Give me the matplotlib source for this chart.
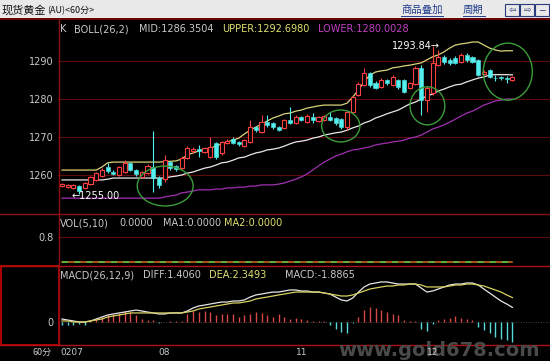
import numpy as np
import matplotlib
matplotlib.use("Agg")
from matplotlib import pyplot as plt
from matplotlib.patches import Rectangle, Ellipse
from matplotlib.lines import Line2D
from matplotlib.transforms import blended_transform_factory

plt.rcParams["font.family"] = ["DejaVu Sans", "Noto Sans CJK SC"]

# 60 minute gold candles
opens = [1257.1, 1256.8, 1256.6, 1257.1, 1256.6, 1257.6, 1258.7, 1259.7, 1262.1, 1260.8,
         1260.0, 1260.8, 1263.2, 1261.3, 1259.5, 1260.5, 1262.1, 1259.2, 1258.9, 1263.4,
         1262.4, 1261.8, 1264.5, 1266.3, 1266.8, 1266.1, 1264.7, 1268.4, 1265.8, 1268.4,
         1269.5, 1268.7, 1267.6, 1268.7, 1272.6, 1271.3, 1273.9, 1273.7, 1272.6, 1272.4,
         1274.5, 1273.7, 1275.3, 1273.9, 1275.3, 1274.2, 1274.5, 1275.3, 1275.0, 1274.7,
         1272.6, 1276.6, 1281.1, 1283.7, 1286.8, 1284.2, 1283.2, 1285.0, 1283.7, 1285.0,
         1285.0, 1282.9, 1283.9, 1288.2, 1279.7, 1281.6, 1288.9, 1291.1, 1290.3, 1290.8,
         1289.7, 1291.6, 1291.1, 1290.3, 1286.6, 1287.6, 1285.5, 1285.7, 1285.4, 1285.0]
closes = [1257.6, 1257.4, 1257.4, 1255.8, 1257.9, 1259.5, 1260.5, 1261.3, 1261.1, 1260.3,
          1262.1, 1263.2, 1261.3, 1260.3, 1260.8, 1262.4, 1259.2, 1257.4, 1263.9, 1261.8,
          1261.6, 1264.5, 1267.1, 1266.8, 1266.3, 1267.1, 1267.4, 1264.7, 1268.7, 1268.9,
          1268.4, 1268.2, 1269.2, 1272.6, 1271.8, 1273.9, 1273.2, 1272.6, 1271.8, 1274.5,
          1273.7, 1275.3, 1274.5, 1275.5, 1274.5, 1275.3, 1275.5, 1274.5, 1273.7, 1272.6,
          1276.6, 1280.5, 1283.9, 1286.8, 1283.7, 1282.9, 1285.0, 1284.2, 1285.8, 1283.2,
          1281.8, 1284.2, 1288.2, 1279.7, 1282.9, 1289.5, 1291.1, 1289.7, 1289.5, 1289.5,
          1291.6, 1290.3, 1289.7, 1286.3, 1287.1, 1285.8, 1285.4, 1285.5, 1285.3, 1285.8]
highs = [1257.9, 1257.6, 1257.6, 1257.4, 1258.2, 1259.7, 1260.8, 1261.8, 1263.2, 1261.3,
         1262.4, 1263.9, 1263.4, 1261.6, 1261.1, 1262.9, 1271.6, 1259.7, 1265.3, 1263.7,
         1262.6, 1265.0, 1267.6, 1267.4, 1267.9, 1267.4, 1270.0, 1268.7, 1268.9, 1269.5,
         1270.0, 1268.9, 1269.5, 1274.5, 1272.9, 1275.8, 1275.8, 1273.9, 1272.9, 1274.7,
         1277.9, 1275.8, 1275.5, 1276.1, 1276.3, 1275.5, 1275.8, 1276.6, 1275.3, 1275.0,
         1276.8, 1280.8, 1284.5, 1288.2, 1287.1, 1284.7, 1285.5, 1285.3, 1286.3, 1285.3,
         1285.3, 1284.5, 1288.7, 1288.9, 1283.4, 1293.84, 1292.9, 1291.6, 1290.8, 1291.3,
         1292.1, 1292.1, 1291.3, 1290.5, 1287.6, 1287.9, 1286.3, 1286.1, 1286.1, 1286.1]
lows = [1256.8, 1256.6, 1256.3, 1255.0, 1256.3, 1257.4, 1258.4, 1259.5, 1260.5, 1260.0,
        1259.7, 1260.5, 1261.1, 1259.7, 1259.2, 1260.3, 1255.5, 1256.6, 1258.2, 1261.3,
        1261.1, 1261.6, 1264.2, 1265.8, 1264.7, 1265.8, 1264.5, 1264.2, 1265.3, 1268.2,
        1268.2, 1267.6, 1267.4, 1268.4, 1271.3, 1271.1, 1272.6, 1272.1, 1271.6, 1272.1,
        1273.4, 1273.4, 1274.2, 1273.7, 1273.7, 1273.9, 1274.2, 1274.2, 1273.2, 1272.1,
        1271.8, 1276.3, 1280.8, 1283.4, 1283.2, 1282.6, 1282.9, 1283.7, 1283.4, 1282.6,
        1281.6, 1282.6, 1283.7, 1275.8, 1276.6, 1281.1, 1288.7, 1289.2, 1288.9, 1289.2,
        1289.5, 1289.7, 1289.5, 1286.1, 1286.3, 1285.5, 1284.7, 1285.0, 1284.2, 1284.7]

# BOLL(26,2)
boll_upper = [1261.3, 1261.3, 1261.3, 1261.3, 1261.3, 1261.3, 1261.3, 1262.1, 1263.2, 1263.4,
              1263.4, 1263.4, 1263.4, 1263.4, 1263.4, 1263.4, 1263.4, 1263.4, 1263.5, 1263.6,
              1263.7, 1264.2, 1265.3, 1265.8, 1266.3, 1266.8, 1267.1, 1267.6, 1268.2, 1268.7,
              1269.2, 1269.7, 1270.8, 1271.8, 1272.6, 1273.4, 1274.2, 1275.0, 1275.5, 1276.1,
              1276.3, 1276.8, 1277.1, 1277.6, 1277.9, 1278.2, 1278.4, 1278.4, 1278.4, 1278.4,
              1278.9, 1280.5, 1282.4, 1284.5, 1286.3, 1287.1, 1287.4, 1287.6, 1288.2, 1288.4,
              1288.7, 1288.9, 1289.2, 1289.5, 1290.3, 1291.1, 1291.6, 1292.4, 1293.4, 1294.2,
              1294.5, 1294.7, 1295.0, 1295.0, 1294.2, 1293.4, 1292.9, 1292.6, 1292.7, 1292.7]
boll_mid = [1258.7, 1258.7, 1258.7, 1258.7, 1258.7, 1258.7, 1258.7, 1258.7, 1258.9, 1259.2,
            1259.2, 1259.2, 1259.2, 1259.2, 1259.2, 1259.2, 1259.2, 1259.2, 1259.2, 1259.5,
            1259.7, 1260.0, 1260.5, 1260.8, 1261.3, 1261.8, 1262.1, 1262.6, 1263.2, 1263.4,
            1263.9, 1264.5, 1264.7, 1265.3, 1265.8, 1266.1, 1266.6, 1266.8, 1267.1, 1267.6,
            1268.2, 1268.7, 1268.9, 1269.2, 1269.7, 1270.0, 1270.5, 1270.8, 1271.1, 1271.3,
            1271.8, 1272.4, 1272.9, 1273.7, 1274.2, 1275.0, 1275.5, 1276.1, 1276.6, 1277.1,
            1277.9, 1278.7, 1279.2, 1280.0, 1280.8, 1281.3, 1282.1, 1282.6, 1283.2, 1283.7,
            1283.9, 1284.5, 1285.0, 1285.5, 1285.8, 1286.3, 1286.4, 1286.4, 1286.4, 1286.35]
boll_lower = [1253.9, 1253.9, 1253.9, 1253.9, 1253.9, 1253.9, 1253.9, 1253.9, 1253.9, 1253.9,
              1253.9, 1253.9, 1253.9, 1253.9, 1253.9, 1253.9, 1253.9, 1253.9, 1254.2, 1254.5,
              1254.7, 1255.3, 1255.5, 1255.8, 1256.1, 1256.1, 1256.1, 1256.3, 1256.3, 1256.6,
              1256.6, 1256.8, 1256.8, 1257.1, 1257.1, 1257.4, 1257.4, 1257.4, 1257.6, 1257.9,
              1258.4, 1258.9, 1259.5, 1260.3, 1261.3, 1262.4, 1263.4, 1264.2, 1265.0, 1265.5,
              1266.1, 1266.6, 1266.8, 1267.1, 1267.4, 1267.9, 1268.2, 1268.4, 1268.7, 1268.9,
              1269.2, 1269.7, 1270.0, 1270.5, 1271.3, 1272.1, 1272.6, 1273.2, 1273.9, 1274.7,
              1275.5, 1276.3, 1276.8, 1277.6, 1278.4, 1278.9, 1279.5, 1279.7, 1280.0, 1280.0]

# VOL(5,10): no volume for spot gold, both averages sit at zero
vol_ma1 = [0.0] * 80
vol_ma2 = [0.0] * 80

# MACD(26,12,9)
macd_diff = [0.29, 0.19, 0.10, 0.00, 0.00, 0.10, 0.29, 0.48, 0.67, 0.77,
             0.87, 0.96, 1.06, 1.15, 1.06, 0.96, 0.87, 0.77, 0.77, 0.87,
             0.87, 0.87, 1.06, 1.35, 1.54, 1.63, 1.73, 1.83, 1.92, 1.92,
             2.02, 2.02, 2.12, 2.40, 2.60, 2.69, 2.79, 2.88, 2.88, 2.98,
             3.08, 3.08, 2.98, 2.98, 2.88, 2.88, 2.79, 2.69, 2.40, 2.12,
             2.02, 2.31, 2.88, 3.37, 3.65, 3.75, 3.85, 3.85, 3.75, 3.65,
             3.65, 3.65, 3.65, 3.27, 2.88, 2.98, 3.17, 3.37, 3.56, 3.65,
             3.65, 3.75, 3.75, 3.56, 3.17, 2.79, 2.40, 2.02, 1.73, 1.406]
macd_dea = [0.10, 0.10, 0.00, 0.00, 0.00, 0.10, 0.19, 0.29, 0.48, 0.58,
            0.67, 0.77, 0.87, 0.87, 0.87, 0.87, 0.87, 0.87, 0.87, 0.87,
            0.87, 0.87, 0.96, 1.06, 1.25, 1.35, 1.44, 1.54, 1.63, 1.73,
            1.83, 1.83, 1.92, 2.02, 2.21, 2.31, 2.40, 2.50, 2.60, 2.69,
            2.79, 2.88, 2.88, 2.88, 2.88, 2.88, 2.79, 2.69, 2.60, 2.50,
            2.50, 2.60, 2.79, 2.98, 3.17, 3.27, 3.37, 3.46, 3.46, 3.56,
            3.56, 3.65, 3.65, 3.56, 3.37, 3.37, 3.37, 3.37, 3.46, 3.56,
            3.56, 3.65, 3.65, 3.56, 3.46, 3.27, 3.08, 2.88, 2.60, 2.349]
macd_hist = [-0.3, -0.25, -0.3, -0.2, -0.25, 0.15, 0.3, 0.5, 0.65, 0.8,
             0.9, 1.1, 1.0, 0.65, 0.3, 0.2, 0.15, -0.1, 0.0, 0.05,
             0.05, 0.1, 0.8, 1.1, 1.0, 1.1, 1.0, 0.65, 0.8, 0.75,
             0.8, 0.5, 0.65, 0.8, 1.0, 0.9, 0.65, 0.5, 0.8, 0.5,
             0.3, 0.4, 0.25, 0.15, 0.1, 0.05, 0.05, -0.3, -0.65, -1.0,
             -1.05, -0.05, 0.5, 1.2, 1.4, 1.3, 1.2, 1.0, 0.8, 0.65,
             0.15, 0.05, 0.1, -0.65, -0.85, -0.2, 0.15, 0.3, 0.4, 0.55,
             0.4, 0.3, 0.15, -0.5, -0.8, -1.1, -1.4, -1.6, -1.75, -1.8865]

price_ticks = [1260, 1270, 1280, 1290]
date_pos = [0, 18, 42, 65]
date_labels = ["0207", "08", "11", "12"]

# hand drawn green circles: (bar index, price, width in bars, height in price)
circles = [(18.1, 1257.1, 9.8, 10.5), (48.9, 1272.9, 6.7, 8.4),
           (64.1, 1278.2, 6.1, 10.0), (78.2, 1287.2, 8.6, 15.0)]

RED = "#ff4040"
CYAN = "#54f0f0"
GRID = "#5e0b0b"
SEP = "#8c1010"
LABEL = "#c8c8c8"

W, H = 550, 361
X_LO, X_HI = -0.70, 85.6


def fx(x):
    return x / W


def fy(y):
    return 1 - y / H


fig = plt.figure(figsize=(W / 100, H / 100), dpi=100, facecolor="black")


def add_panel(y0, y1):
    ax = fig.add_axes([fx(58), fy(y1), (W - 58) / W, (y1 - y0) / H])
    ax.set_facecolor("black")
    for s in ax.spines.values():
        s.set_visible(False)
    ax.set_xlim(X_LO, X_HI)
    ax.set_xticks([])
    ax.tick_params(axis="y", length=0, pad=3.4, labelsize=7, labelcolor=LABEL)
    return ax


def ftext(x, y, s, **kw):
    kw.setdefault("va", "center")
    kw.setdefault("fontsize", 7)
    kw.setdefault("color", LABEL)
    fig.text(fx(x), fy(y), s, **kw)


def fline(xs, ys, color=SEP, lw=1.0):
    fig.add_artist(Line2D([fx(v) for v in xs], [fy(v) for v in ys],
                          transform=fig.transFigure, color=color, lw=lw))


idx = np.arange(len(opens))
o = np.array(opens)
c = np.array(closes)
h = np.array(highs)
l = np.array(lows)

# ---- price panel
ax = add_panel(19, 213)
ax.set_ylim(1250.0, 1301.05)
ax.set_yticks(price_ticks)
ax.set_yticklabels([str(t) for t in price_ticks])
for t in price_ticks:
    ax.axhline(t, color=GRID, lw=0.8, zorder=0)

ax.plot(idx, boll_upper, color="#d8d47a", lw=0.9, zorder=2)
ax.plot(idx, boll_mid, color="#e8e8e8", lw=0.9, zorder=2)
ax.plot(idx, boll_lower, color="#a030b0", lw=0.9, zorder=2)

up = c >= o
body_lo = np.minimum(o, c)
body_hi = np.maximum(o, c)
body_h = np.maximum(body_hi - body_lo, 0.25)
cols = np.where(up, RED, CYAN)
ax.vlines(idx, l, body_lo, colors=cols, lw=0.8, zorder=3)
ax.vlines(idx, body_hi, h, colors=cols, lw=0.8, zorder=3)
ax.bar(idx[up], body_h[up], bottom=body_lo[up], width=0.72,
       facecolor="black", edgecolor=RED, lw=0.8, zorder=4)
ax.bar(idx[~up], body_h[~up], bottom=body_lo[~up], width=0.72,
       facecolor=CYAN, edgecolor=CYAN, lw=0.4, zorder=4)

for cx, cy, cw, ch in circles:
    ax.add_patch(Ellipse((cx, cy), cw, ch, fill=False, edgecolor="#3c9c3c", lw=1.0, zorder=5))

hi_i = int(np.argmax(h))
ax.text(hi_i + 1.3, h[hi_i], f"{h[hi_i]:.2f}\u2192", ha="right", va="center",
        color="white", fontsize=7, zorder=6)
lo_i = int(np.argmin(l))
ax.text(lo_i - 1.25, l[lo_i] - 0.45, f"\u2190{l[lo_i]:.2f}", ha="left", va="center",
        color="white", fontsize=7, zorder=6)

# ---- volume panel
axv = add_panel(213, 265)
axv.set_ylim(-0.096, 1.568)
axv.set_yticks([0.8])
axv.set_yticklabels(["0.8"])
axv.axhline(0.8, color=GRID, lw=0.8, zorder=0)
axv.plot(idx, vol_ma1, color="#d86a20", lw=1.1)
axv.plot(idx, vol_ma2, color="#50c840", lw=1.1, dashes=(4, 4))

# ---- MACD panel
axm = add_panel(266, 344)
axm.set_ylim(-2.115, 5.385)
axm.set_yticks([0])
axm.set_yticklabels(["0"])
axm.axhline(0, color="#555555", lw=0.6, ls=(0, (1, 2)), zorder=0)
hist = np.array(macd_hist)
axm.vlines(idx, 0, hist, colors=np.where(hist > 0, "#d84848", "#5ad8d8"), lw=1.0)
axm.plot(idx, macd_diff, color="#e6e6e6", lw=0.9)
axm.plot(idx, macd_dea, color="#d8d060", lw=0.9)

# ---- frame lines
fig.add_artist(Rectangle((0, fy(18)), 1, 18 / H, transform=fig.transFigure,
                         facecolor="#e9e9e9", edgecolor="none"))
fline([0, W], [18.5, 18.5], color="#6a0000", lw=1.4)
fline([58.5, 58.5], [19, 344], color=SEP)
fline([0, W], [213.5, 213.5])
fline([0, W], [265.5, 265.5], color="#b01010")
fline([0, W], [344.5, 344.5], color="#b01010")
fig.add_artist(Rectangle((fx(0.8), fy(344.5)), (58.5 - 0.8) / W, 79 / H,
                         transform=fig.transFigure, fill=False, edgecolor="#e00000", lw=1.1))

# watermark sits behind the date labels
ftext(338, 351, "www.gold678.com", color="#4a4a4a", fontsize=14, fontweight="bold",
      zorder=3)

trans = blended_transform_factory(axm.transData, axm.transAxes)
for i, (pos, lab) in enumerate(zip(date_pos, date_labels)):
    fig.text(pos - 0.35 if i == 0 else pos, -0.103, lab, transform=trans,
             ha="left" if i == 0 else "center", va="center", fontsize=6.5, color=LABEL,
             zorder=5)
ftext(52, 352, "60分", ha="right", fontsize=6.5, family=["Noto Sans CJK SC", "DejaVu Sans"])

# ---- title bar
cjk = ["Noto Sans CJK SC", "DejaVu Sans"]
ftext(2, 10, "现货黄金", color="#101010", fontsize=8, family=cjk)
ftext(47, 10.5, "(AU)<60分>", color="#101010", fontsize=6.5, family=cjk)
ftext(401, 9.5, "商品叠加", color="#203c8c", fontsize=7.5, family=cjk)
fline([401, 443], [16, 16], color="#203c8c", lw=0.7)
ftext(463, 9.5, "周期", color="#203c8c", fontsize=7.5, family=cjk)
fline([463, 485], [16, 16], color="#203c8c", lw=0.7)
for bx, sym in zip([505, 520, 535], ["\u21e6", "\u21e8", "\u2212"]):
    fig.add_artist(Rectangle((fx(bx), fy(15.5)), 14 / W, 11 / H, transform=fig.transFigure,
                             fill=False, edgecolor="#2a3a7a", lw=0.8))
    ftext(bx + 7, 10, sym, ha="center", color="#2a3a7a", fontsize=6.5)

# ---- indicator headers
ftext(60, 29, "K")
ftext(74, 29, "BOLL(26,2)")
ftext(139, 29, "MID:1286.3504")
ftext(222, 29, "UPPER:1292.6980", color="#e0e070")
ftext(318, 29, "LOWER:1280.0028", color="#c040c0")

ftext(60, 223, "VOL(5,10)")
ftext(119, 223, "0.0000")
ftext(163, 223, "MA1:0.0000")
ftext(224, 223, "MA2:0.0000", color="#e0e070")

ftext(60, 275, "MACD(26,12,9)")
ftext(143, 275, "DIFF:1.4060")
ftext(209, 275, "DEA:2.3493", color="#e0e070")
ftext(285, 275, "MACD:-1.8865")

fig.savefig("out.png", dpi=100, facecolor="black")
